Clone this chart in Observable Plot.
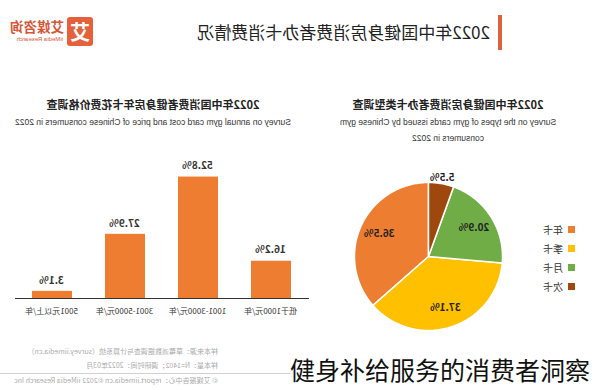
<!DOCTYPE html>
<html>
<head>
<meta charset="utf-8">
<script src="https://cdn.jsdelivr.net/npm/d3@7"></script>
<script src="https://cdn.jsdelivr.net/npm/@observablehq/plot@0.6"></script>
<style>
  body { margin: 0; background: #fff; }
  #page { position: relative; width: 600px; height: 390px; overflow: hidden; transform: scaleX(-1); background: #fff;
          font-family: "Noto Sans CJK SC", "Noto Sans", sans-serif; }
  .abs { position: absolute; white-space: nowrap; }
  #caption { position: absolute; left: 290px; top: 354px; font-size: 25px; line-height: 30px; color: #111;
             font-family: "Noto Sans CJK SC", sans-serif; white-space: nowrap; }
</style>
</head>
<body>
<div id="page">
  <div class="abs" style="left:98px;top:15px;width:4px;height:35px;background:#e0603a"></div>
  <div class="abs" id="mainTitle" style="left:110px;top:20px;font-size:17px;line-height:24px;color:#222"></div>
  <div class="abs" style="left:507px;top:17px;width:26px;height:29px;background:#e5613b;border-radius:3px;color:#fff;font-size:20px;font-weight:bold;line-height:29px;text-align:center">艾</div>
  <div class="abs" style="left:536px;top:18px;font-size:13.5px;font-weight:bold;line-height:17px;color:#d4573a">艾媒咨询</div>
  <div class="abs" style="left:537px;top:36px;font-size:6px;line-height:7px;color:#d4573a;font-family:'Liberation Sans',sans-serif">iiMedia Research</div>

  <div class="abs" id="pieTitle" style="left:0;top:97px;width:304px;text-align:center;font-size:11px;font-weight:bold;line-height:15px;color:#222"></div>
  <div class="abs" id="pieSub" style="left:0;top:115px;width:304px;text-align:center;font-size:8.5px;line-height:15.5px;color:#333;font-family:'Liberation Sans',sans-serif;white-space:normal"></div>
  <div class="abs" id="barTitle" style="left:300px;top:97px;width:294px;text-align:center;font-size:11px;font-weight:bold;line-height:15px;color:#222"></div>
  <div class="abs" id="barSub" style="left:300px;top:115px;width:294px;text-align:center;font-size:8.5px;line-height:15px;color:#333;font-family:'Liberation Sans',sans-serif"></div>

  <div class="abs" id="pie" style="left:0;top:150px"></div>
  <div class="abs" id="legend" style="left:25px;top:220px"></div>
  <div class="abs" id="bar" style="left:290px;top:140px"></div>

  <div class="abs" id="footer" style="left:382px;top:345px;font-size:7px;color:#aaa;line-height:13.5px"></div>
  <div class="abs" style="left:310px;top:373px;width:290px;height:1px;background:#d0d0d0"></div>
</div>
<div id="caption"></div>
<script>
// ---- data ----
const mainTitle = "2022年中国健身房消费者办卡消费情况";
const pieTitle = "2022年中国健身房消费者办卡类型调查";
const pieSubtitle = ["Survey on the types of gym cards issued by Chinese gym", "consumers in 2022"];
const barTitle = "2022年中国消费者健身房年卡花费价格调查";
const barSubtitle = "Survey on annual gym card cost and price of Chinese consumers in 2022";
const footerLines = [
  "样本来源：草莓派数据调查与计算系统（survey.iimedia.cn）",
  "样本量：N=1402；调研时间：2022年03月",
  "© 艾媒报告中心：report.iimedia.cn   ©2022  iiMedia Research Inc"
];
const captionText = "健身补给服务的消费者洞察";

const priceCategories = ["低于1000元/年", "1001-3000元/年", "3001-5000元/年", "5001元以上/年"];
const priceShares = [16.2, 52.8, 27.9, 3.1];

const cardTypes = ["年卡", "季卡", "月卡", "次卡"];
const cardShares = [36.5, 37.1, 20.9, 5.5];
const cardColors = ["#ed7d31", "#ffc000", "#70ad47", "#9e480e"];

// ---- texts ----
document.getElementById("mainTitle").textContent = mainTitle;
document.getElementById("pieTitle").textContent = pieTitle;
document.getElementById("pieSub").innerHTML = pieSubtitle.join("<br>");
document.getElementById("barTitle").textContent = barTitle;
document.getElementById("barSub").textContent = barSubtitle;
document.getElementById("footer").innerHTML = footerLines.map((l, i) => `<div style="margin-top:${i === 2 ? 1.5 : 0}px">${l}</div>`).join("");
document.getElementById("caption").textContent = captionText;

// ---- bar chart ----
const barData = priceCategories.map((c, i) => ({cat: c, v: priceShares[i]}));
const bar = Plot.plot({
  width: 310, height: 190,
  marginLeft: 1, marginRight: 15, marginTop: 20, marginBottom: 32,
  style: {fontFamily: "'Noto Sans CJK SC', sans-serif", color: "#333", background: "transparent", overflow: "visible"},
  x: {domain: priceCategories, paddingInner: 0.455, paddingOuter: 0.2275, label: null, axis: null},
  y: {domain: [0, 60], axis: null},
  marks: [
    Plot.barY(barData, {x: "cat", y: "v", fill: "#ee7d31"}),
    Plot.ruleY([0], {stroke: "#333", strokeWidth: 1}),
    Plot.text(barData, {x: "cat", y: "v", text: d => d.v.toFixed(1) + "%", dy: -11, fontSize: 10, fontWeight: "bold", fill: "#333"}),
    Plot.axisX({tickSize: 0, tickPadding: 10, fontSize: 8, label: null, fill: "#333"})
  ]
});
document.getElementById("bar").appendChild(bar);

// ---- pie chart ----
const total = d3.sum(cardShares);
const slices = [];
const labels = [];
let acc = 0;
cardTypes.forEach((t, i) => {
  const a0 = acc / total * 2 * Math.PI;
  acc += cardShares[i];
  const a1 = acc / total * 2 * Math.PI;
  slices.push({type: t, x: 0, y: 0});
  const n = Math.max(2, Math.ceil((a1 - a0) / (Math.PI / 180)));
  for (let k = 0; k <= n; k++) {
    const a = a0 + (a1 - a0) * k / n;
    slices.push({type: t, x: Math.sin(a), y: Math.cos(a)});
  }
  const am = (a0 + a1) / 2;
  const r = cardShares[i] < 10 ? 1.08 : 0.73;
  labels.push({type: t, x: r * Math.sin(am), y: r * Math.cos(am), text: cardShares[i].toFixed(1) + "%"});
});
const pie = Plot.plot({
  width: 290, height: 190, margin: 0,
  style: {fontFamily: "'Noto Sans CJK SC', sans-serif", background: "transparent", overflow: "visible"},
  x: {domain: [-1, 1], range: [97, 245], axis: null},
  y: {domain: [-1, 1], range: [180, 32], axis: null},
  color: {domain: cardTypes, range: cardColors},
  marks: [
    Plot.line(slices, {x: "x", y: "y", z: "type", fill: "type", stroke: "#fff", strokeWidth: 1.5, curve: "linear-closed"}),
    Plot.text(labels, {x: "x", y: "y", text: "text", fontSize: 10, fontWeight: "bold", fill: "#222"})
  ]
});
document.getElementById("pie").appendChild(pie);

// ---- legend ----
document.getElementById("legend").innerHTML = cardTypes.map((t, i) =>
  `<div style="display:flex;align-items:center;height:19px;font-size:10px;color:#333">
     <span style="display:inline-block;width:7px;height:7px;background:${cardColors[i]};margin-right:5px"></span>${t}
   </div>`).join("");
</script>
</body>
</html>
